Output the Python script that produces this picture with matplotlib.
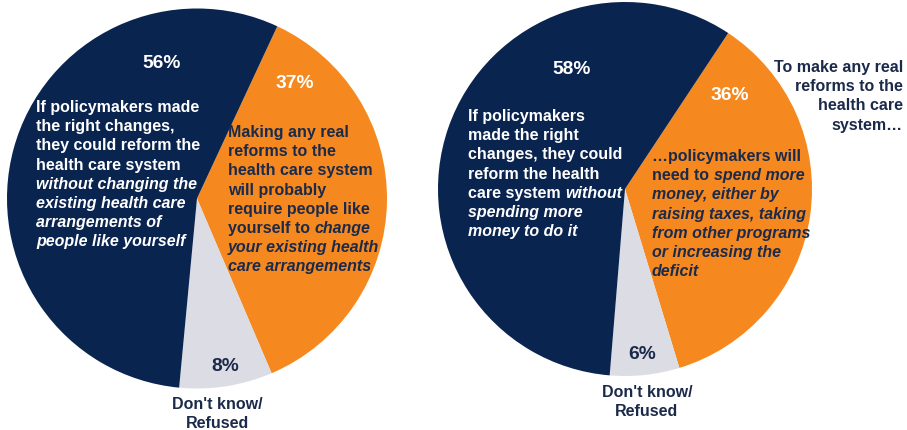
import matplotlib
matplotlib.use('Agg')
import matplotlib.pyplot as plt

# Datos
left_labels = ['Making any real reforms', "Don't know/Refused", 'Could reform without changing']
left_values = [37, 8, 56]
right_labels = ['Need to spend more money', "Don't know/Refused", 'Could reform without spending']
right_values = [36, 6, 58]

NAVY = '#0A2450'
ORANGE = '#F5891F'
GRAY = '#DCDCE4'
TXT = '#1B2A4A'

W, H = 907, 431
plt.rcParams['font.family'] = ['Liberation Sans', 'DejaVu Sans']

fig = plt.figure(figsize=(W / 100, H / 100), dpi=100)
ax = fig.add_axes([0, 0, 1, 1])

# Pies (coordenadas en pixeles, y hacia arriba)
ax.pie(left_values, colors=[ORANGE, GRAY, NAVY], startangle=65, counterclock=False,
       center=(197, H - 199.5), radius=190, wedgeprops={'linewidth': 0})
ax.pie(right_values, colors=[ORANGE, GRAY, NAVY], startangle=56.5, counterclock=False,
       center=(625, H - 190), radius=187, wedgeprops={'linewidth': 0})
ax.set_xlim(0, W)
ax.set_ylim(0, H)
ax.set_aspect('equal')
ax.axis('off')

renderer = fig.canvas.get_renderer()
FS = 11.5
LS = 19.2


def draw_line(x, yc, segments, color, ha='left'):
    # segments: lista de (texto, italic)
    y = H - yc - 4
    widths = []
    for txt, it in segments:
        t = ax.text(0, 0, txt, fontsize=FS, fontweight='bold')
        t.set_fontstyle('italic' if it else 'normal')
        widths.append(t.get_window_extent(renderer).width)
        t.remove()
    total = sum(widths)
    if ha == 'right':
        x = x - total
    elif ha == 'center':
        x = x - total / 2
    for (txt, it), w in zip(segments, widths):
        ax.text(x, y, txt, fontsize=FS, fontweight='bold', color=color,
                fontstyle='italic' if it else 'normal', va='baseline', ha='left')
        x += w


def draw_block(x, y0, lines, color, ha='left'):
    for i, segs in enumerate(lines):
        draw_line(x, y0 + i * LS, segs, color, ha)


def pct(x, yc, s, color):
    ax.text(x, H - yc, s, fontsize=13.8, fontweight='bold', color=color,
            ha='center', va='center')


# Pie izquierdo
pct(162, 63, f'{left_values[2]}%', 'white')
pct(295, 84, f'{left_values[0]}%', 'white')
pct(225, 367, f'{left_values[1]}%', TXT)

draw_block(36, 108, [
    [('If policymakers made', False)],
    [('the right changes,', False)],
    [('they could reform the', False)],
    [('health care system', False)],
    [('without changing the', True)],
    [('existing health care', True)],
    [('arrangements of', True)],
    [('people like yourself', True)],
], 'white')

draw_block(228, 133, [
    [('Making any real', False)],
    [('reforms to the', False)],
    [('health care system', False)],
    [('will probably', False)],
    [('require people like', False)],
    [('yourself to ', False), ('change', True)],
    [('your existing health', True)],
    [('care arrangements', True)],
], TXT)

draw_block(217, 405, [
    [("Don't know/", False)],
    [('Refused', False)],
], TXT, ha='center')

# Pie derecho
pct(572, 70, f'{right_values[2]}%', 'white')
pct(730, 96, f'{right_values[0]}%', 'white')
pct(642, 355, f'{right_values[1]}%', TXT)

draw_block(468, 117, [
    [('If policymakers', False)],
    [('made the right', False)],
    [('changes, they could', False)],
    [('reform the health', False)],
    [('care system ', False), ('without', True)],
    [('spending more', True)],
    [('money to do it', True)],
], 'white')

draw_block(652, 157, [
    [('\u2026policymakers will', False)],
    [('need to ', False), ('spend more', True)],
    [('money, either by', True)],
    [('raising taxes, taking', True)],
    [('from other programs', True)],
    [('or increasing the', True)],
    [('deficit', True)],
], TXT)

draw_block(903, 68, [
    [('To make any real', False)],
    [('reforms to the', False)],
    [('health care', False)],
    [('system\u2026', False)],
], TXT, ha='right')

draw_block(647, 393, [
    [("Don't know/", False)],
    [('Refused', False)],
], TXT, ha='center')

fig.savefig('out.png', dpi=100)
